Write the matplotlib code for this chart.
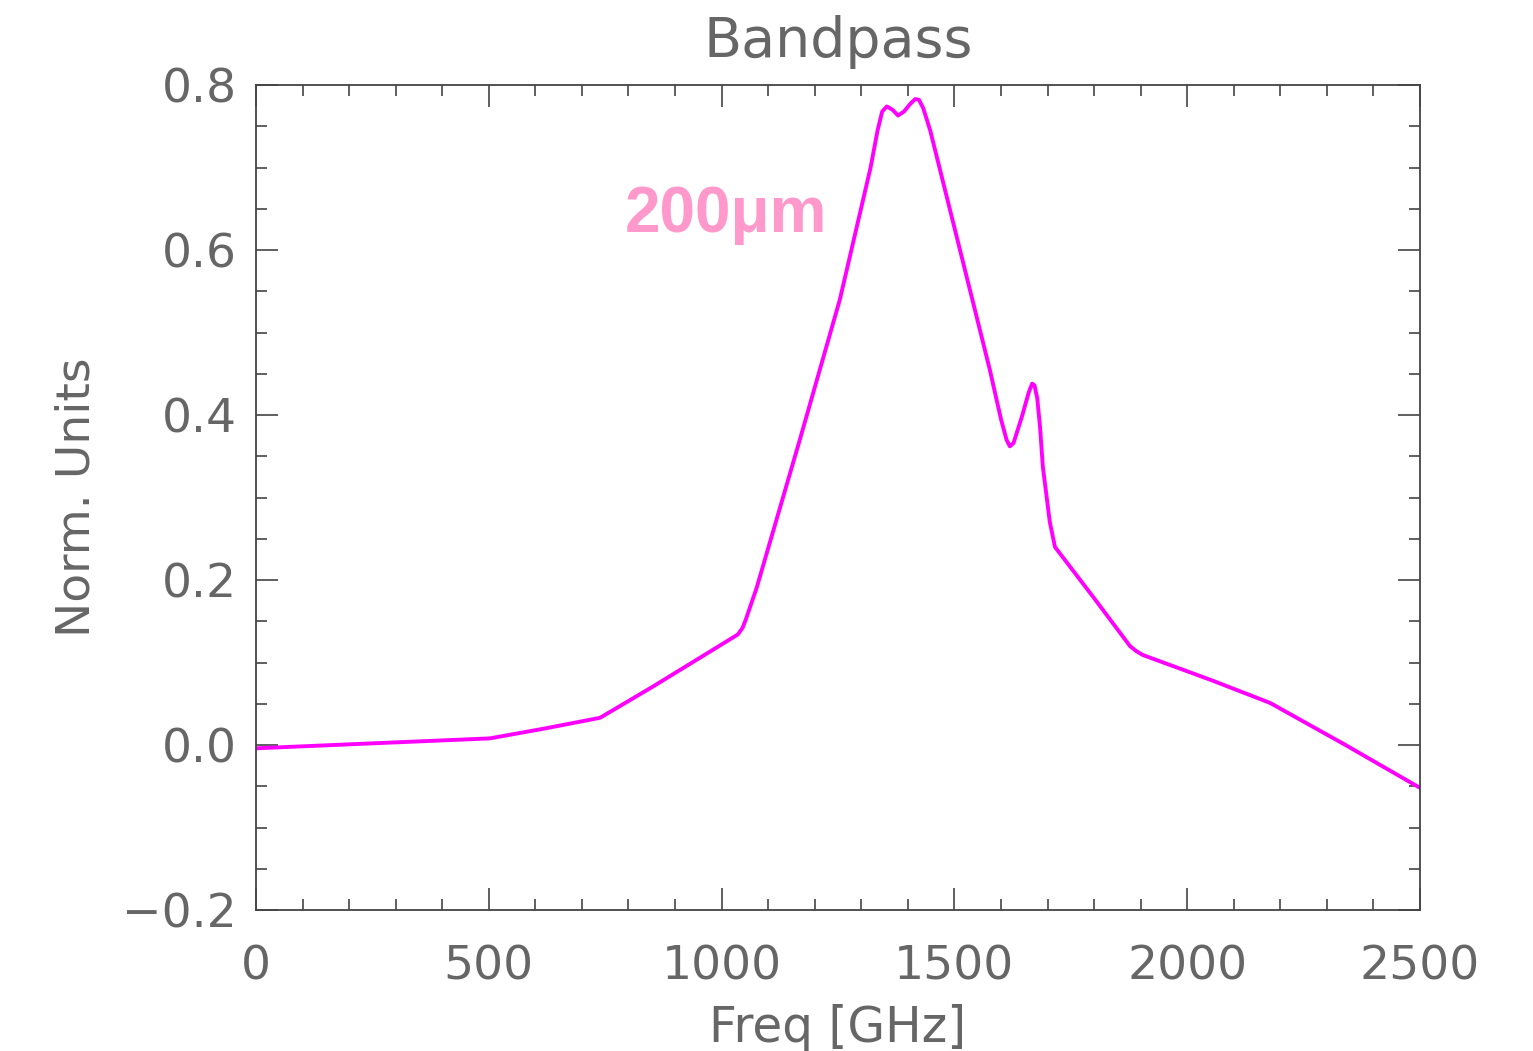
import matplotlib.pyplot as plt
from matplotlib.ticker import MultipleLocator

# bandpass curve
freq = [0, 250, 502, 620, 739, 850, 960, 1035, 1045, 1052, 1061, 1075, 1168,
        1254, 1320, 1335, 1345, 1355, 1367, 1379, 1392, 1405, 1416, 1424,
        1433, 1448, 1512, 1576, 1600, 1612, 1619, 1627, 1645, 1660, 1667,
        1672, 1678, 1684, 1690, 1705, 1716, 1800, 1877, 1890, 1905, 2050,
        2178, 2340, 2500]
resp = [-0.004, 0.002, 0.008, 0.02, 0.033, 0.07, 0.108, 0.134, 0.142, 0.152,
        0.167, 0.19, 0.37, 0.54, 0.70, 0.745, 0.768, 0.774, 0.770, 0.763,
        0.768, 0.777, 0.783, 0.782, 0.772, 0.745, 0.60, 0.455, 0.395, 0.370,
        0.362, 0.366, 0.398, 0.428, 0.438, 0.436, 0.42, 0.385, 0.337, 0.27,
        0.240, 0.178, 0.120, 0.114, 0.109, 0.079, 0.051, 0.0, -0.052]

label_txt = "200μm"
label_pos = (792, 0.642)

grey = "#666666"
fig = plt.figure(figsize=(15.33, 10.51), dpi=100)
ax = fig.add_axes([256/1533, 1 - 910/1051, 1164/1533, 825/1051])

ax.plot(freq, resp, color="#ff00ff", lw=2.8, solid_joinstyle="round",
        solid_capstyle="round")

ax.set_xlim(0, 2500)
ax.set_ylim(-0.2, 0.8)
ax.xaxis.set_major_locator(MultipleLocator(500))
ax.xaxis.set_minor_locator(MultipleLocator(100))
ax.yaxis.set_major_locator(MultipleLocator(0.2))
ax.yaxis.set_minor_locator(MultipleLocator(0.05))
ax.yaxis.set_major_formatter(lambda v, p: f"{v:.1f}".replace("-", "\u2212"))

ax.tick_params(which="both", direction="in", top=True, right=True,
               color="#444444", width=1.2, labelsize=34, labelcolor=grey)
ax.tick_params(which="major", length=16)
ax.tick_params(which="minor", length=8)
ax.tick_params(axis="x", which="major", pad=25)
ax.tick_params(axis="y", which="major", pad=14)
for s in ax.spines.values():
    s.set_color("#444444")
    s.set_linewidth(1.3)

ax.set_title("Bandpass", fontsize=40, color=grey, pad=20)
ax.set_xlabel("Freq [GHz]", fontsize=35, color=grey, labelpad=10)
ax.set_ylabel("Norm. Units", fontsize=34, color=grey, labelpad=16)

ax.text(label_pos[0], label_pos[1], label_txt, color="#ff99cc", fontsize=46,
        fontweight="bold", family=["Liberation Sans", "DejaVu Sans"],
        va="center", ha="left")

fig.savefig("out.png", dpi=100)
